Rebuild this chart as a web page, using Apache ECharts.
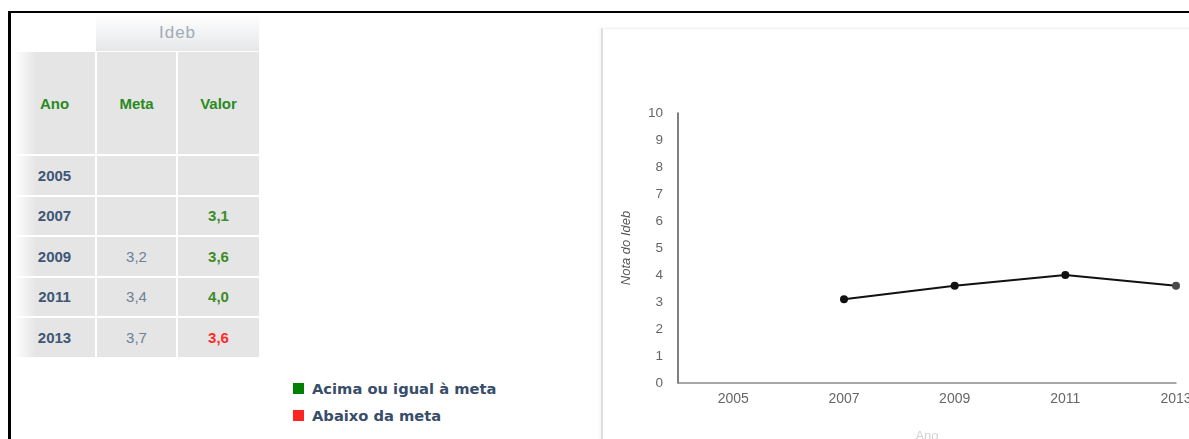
<!DOCTYPE html>
<html><head><meta charset="utf-8">
<script src="https://cdn.jsdelivr.net/npm/echarts@6/dist/echarts.min.js"></script>
<style>
html,body{margin:0;padding:0;width:1189px;height:439px;overflow:hidden;background:#fff;}
body{position:relative;font-family:"Liberation Sans",Arial,sans-serif;}
.frameTop{position:absolute;left:8px;top:11px;width:1181px;height:2px;background:#000;}
.frameLeft{position:absolute;left:8px;top:11px;width:3px;height:428px;background:#000;}
.cell{position:absolute;background:#e5e5e5;display:flex;align-items:center;justify-content:center;font-size:15px;line-height:1;}
.c0{background:linear-gradient(to right,#ffffff 0px,#e5e5e5 22px);}
.ideb{position:absolute;left:96px;top:14px;width:163px;height:37px;background:linear-gradient(to bottom,#ffffff,#e5e7e9);display:flex;align-items:center;justify-content:center;font-size:17px;letter-spacing:1px;color:#a0abb6;}
.hdr{color:#2b8a1f;font-weight:bold;}
.yr{color:#3e5775;font-weight:bold;}
.mt{color:#6e7f96;}
.vl{font-weight:bold;}
.leg{position:absolute;left:293px;width:300px;height:16px;}
.leg .sq{position:absolute;left:0;top:2px;width:11px;height:11px;}
.leg .tx{position:absolute;left:19px;top:-1px;font-family:"DejaVu Sans",Verdana,sans-serif;font-weight:bold;font-size:14.7px;color:#374d6a;white-space:nowrap;line-height:17px;}
.panel{position:absolute;left:601px;top:28px;width:700px;height:440px;border-left:2px solid #dedede;border-top:1px solid #f2f2f2;box-shadow:-1px 0 3px rgba(0,0,0,0.05);}
#chart{position:absolute;left:601px;top:28px;width:700px;height:440px;}
</style>
</head>
<body>
<div class="frameTop"></div>
<div class="frameLeft"></div>
<div id="table"></div>
<div id="legend"></div>
<div class="panel"></div>
<div id="chart"></div>
<script>
// ---- data ----
var years = ['2005', '2007', '2009', '2011', '2013'];
var meta = [null, null, 3.2, 3.4, 3.7];
var valor = [null, 3.1, 3.6, 4.0, 3.6];
var headers = ['Ano', 'Meta', 'Valor'];
var groupTitle = 'Ideb';
var legendLabels = ['Acima ou igual à meta', 'Abaixo da meta'];
var yAxisTitle = 'Nota do Ideb';
var xAxisTitle = 'Ano';

function fmt(v) { return v == null ? '' : v.toFixed(1).replace('.', ','); }
var green = '#3c8c28', red = '#ff2b2b';

// ---- table ----
var cols = [{x:14,w:81},{x:97,w:79},{x:178,w:81}];
var tbl = document.getElementById('table');
function addCell(col, top, h, text, cls, color) {
  var d = document.createElement('div');
  d.className = 'cell ' + (col === 0 ? 'c0 ' : '') + cls;
  d.style.left = cols[col].x + 'px';
  d.style.width = cols[col].w + 'px';
  d.style.top = top + 'px';
  d.style.height = h + 'px';
  if (color) d.style.color = color;
  d.textContent = text;
  tbl.appendChild(d);
}
var ih = document.createElement('div');
ih.className = 'ideb';
ih.textContent = groupTitle;
tbl.appendChild(ih);
headers.forEach(function (h, i) { addCell(i, 52, 102, h, 'hdr'); });
years.forEach(function (y, i) {
  var top = 156 + i * 40.5, h = 38.5;
  addCell(0, top, h, y, 'yr');
  addCell(1, top, h, fmt(meta[i]), 'mt');
  var c = (valor[i] != null && meta[i] != null && valor[i] < meta[i]) ? red : green;
  addCell(2, top, h, fmt(valor[i]), 'vl', c);
});

// ---- legend ----
var lg = document.getElementById('legend');
[['#008000', 381], ['#ff2424', 408]].forEach(function (p, i) {
  var d = document.createElement('div');
  d.className = 'leg';
  d.style.top = p[1] + 'px';
  d.innerHTML = '<div class="sq" style="background:' + p[0] + '"></div><div class="tx"></div>';
  d.querySelector('.tx').textContent = legendLabels[i];
  lg.appendChild(d);
});

// ---- chart ----
var chart = echarts.init(document.getElementById('chart'), null, {renderer: 'canvas'});
var pts = [];
years.forEach(function (y, i) {
  if (valor[i] != null) pts.push({value: [Number(y), valor[i]]});
});
if (pts.length) pts[pts.length - 1].itemStyle = {color: '#4a4a4a'};
chart.setOption({
  animation: false,
  grid: {left: 77, top: 85, width: 498, height: 270, containLabel: false},
  xAxis: {
    type: 'value', min: 2004, max: 2013, interval: 1,
    name: xAxisTitle, nameLocation: 'middle', nameGap: 47,
    nameTextStyle: {color: '#d2d2d2', fontSize: 13, fontFamily: 'Liberation Sans'},
    axisLine: {show: true, lineStyle: {color: '#8a8a8a', width: 1.5}},
    axisTick: {show: false},
    splitLine: {show: false},
    axisLabel: {
      color: '#666', fontSize: 14, fontFamily: 'Liberation Sans', margin: 9,
      showMinLabel: true, showMaxLabel: true,
      formatter: function (v) { return years.indexOf(String(v)) >= 0 ? String(v) : ''; }
    }
  },
  yAxis: {
    type: 'value', min: 0, max: 10, interval: 1,
    name: yAxisTitle, nameLocation: 'middle', nameGap: 45, nameRotate: 90,
    nameTextStyle: {color: '#555', fontSize: 13, fontStyle: 'italic', fontFamily: 'Liberation Sans'},
    axisLine: {show: true, lineStyle: {color: '#555', width: 1.5}},
    axisTick: {show: false},
    splitLine: {show: false},
    axisLabel: {color: '#666', fontSize: 13.5, fontFamily: 'Liberation Sans', margin: 15}
  },
  series: [{
    type: 'line',
    data: pts,
    symbol: 'circle',
    symbolSize: 8,
    lineStyle: {color: '#111', width: 2},
    itemStyle: {color: '#111'},
    clip: false
  }]
});
</script>
</body></html>
